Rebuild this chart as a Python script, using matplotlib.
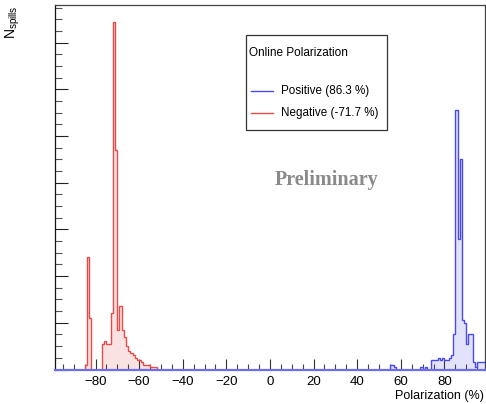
import numpy as np
import matplotlib
matplotlib.use("Agg")
import matplotlib.pyplot as plt
from matplotlib.patches import Rectangle
from matplotlib.lines import Line2D
from matplotlib.ticker import MultipleLocator

plt.rcParams['font.family'] = ['Liberation Sans', 'DejaVu Sans']

# spill counts per 1 % bin, keyed by the lower bin edge
neg_bins = [-85, -84, -83, -77, -76, -75, -74, -73, -72, -71, -70, -69, -68,
            -67, -66, -65, -64, -63, -62, -61, -60, -59, -58, -57, -56, -55,
            -54, -53]
neg_counts = [2, 48, 22, 11, 12, 11, 11, 24, 149, 94, 17, 27, 17,
              14, 10, 8, 7, 6, 5, 4, 4, 3, 2, 2, 2, 1,
              1, 1]

pos_bins = [55, 56, 57, 69, 71, 74, 75, 76, 77, 78, 79, 80, 81, 82, 83, 84,
            85, 86, 87, 88, 89, 90, 91, 92, 93, 94, 95, 96, 97, 98]
pos_counts = [2, 2, 1, 1, 1, 4, 4, 4, 5, 4, 5, 4, 4, 5, 6, 15,
              111, 56, 90, 21, 20, 11, 15, 15, 3, 1, 3, 3, 3, 3]

pos_mean = 86.3
neg_mean = -71.7

edges = np.arange(-100, 101, 1)


def fill_hist(bins, counts):
    h = np.zeros(len(edges) - 1)
    for b, c in zip(bins, counts):
        h[b + 100] = c
    return h


h_neg = fill_hist(neg_bins, neg_counts)
h_pos = fill_hist(pos_bins, pos_counts)

W, H = 486, 404
fig = plt.figure(figsize=(W / 100, H / 100), dpi=100)
ax = fig.add_axes([54.5 / W, 1 - 369.5 / H, 430.5 / W, 364.5 / H])

red_line = '#e84a4a'
red_fill = '#fbe2e2'
blue_line = '#4a4aec'
blue_fill = '#e2e2fa'

ax.stairs(h_neg, edges, fill=True, color=red_fill, zorder=1)
ax.stairs(h_neg, edges, color=red_line, lw=1.0, zorder=2)
ax.stairs(h_pos, edges, fill=True, color=blue_fill, zorder=1)
ax.stairs(h_pos, edges, color=blue_line, lw=1.0, zorder=3)
ax.axhline(0, color='#6e6ee6', lw=1.6, zorder=4, clip_on=False)

ax.set_xlim(-98.8, 98.6)
ax.set_ylim(0, 156.1)

ax.xaxis.set_major_locator(MultipleLocator(20))
ax.xaxis.set_minor_locator(MultipleLocator(5))
ax.yaxis.set_major_locator(MultipleLocator(20))
ax.yaxis.set_minor_locator(MultipleLocator(5))
ax.tick_params(axis='x', which='major', direction='in', length=8, width=0.8,
               color='#333333', labelsize=9.5, pad=5)
ax.tick_params(axis='x', which='minor', direction='in', length=4.3, width=0.8,
               color='#444444')
ax.tick_params(axis='y', which='major', direction='in', length=9.5, width=0.8,
               color='#222222', labelleft=False)
ax.tick_params(axis='y', which='minor', direction='in', length=5, width=0.8,
               color='#555555')

for s in ['top', 'right']:
    ax.spines[s].set_color('#444444')
    ax.spines[s].set_linewidth(0.9)
ax.spines['left'].set_color('#111111')
ax.spines['left'].set_linewidth(0.9)
ax.spines['bottom'].set_visible(False)


def fx(x):
    return x / W


def fy(y):
    return 1 - y / H


fig.text(fx(484), fy(396.5), 'Polarization (%)', ha='right', va='center',
         fontsize=9)
fig.text(fx(12.5), fy(5), r'$\mathregular{N_{spills}}$', rotation=90,
         ha='center', va='top', fontsize=10)

# legend box
fig.add_artist(Rectangle((fx(245.7), fy(130)), fx(386.7 - 245.7),
                         (130 - 35) / H, transform=fig.transFigure,
                         facecolor='white', edgecolor='#333333', lw=0.9,
                         zorder=5))
fig.text(fx(249), fy(52.7), 'Online Polarization', ha='left', va='center',
         fontsize=8.5, zorder=6)
fig.add_artist(Line2D([fx(251), fx(273.3)], [fy(91), fy(91)],
                      transform=fig.transFigure, color=blue_line, lw=1,
                      zorder=6))
fig.text(fx(281), fy(91), 'Positive (%.1f %%)' % pos_mean, ha='left',
         va='center', fontsize=8.4, zorder=6)
fig.add_artist(Line2D([fx(251), fx(273.3)], [fy(113.3), fy(113.3)],
                      transform=fig.transFigure, color=red_line, lw=1,
                      zorder=6))
fig.text(fx(281), fy(113.3), 'Negative (%.1f %%)' % neg_mean, ha='left',
         va='center', fontsize=8.4, zorder=6)

fig.text(fx(326.7), fy(180), 'Preliminary', ha='center', va='center',
         fontsize=14.5, fontweight='bold', color='#8a8a8a',
         family=['Liberation Serif', 'DejaVu Serif'])

fig.savefig('out.png', dpi=100)
